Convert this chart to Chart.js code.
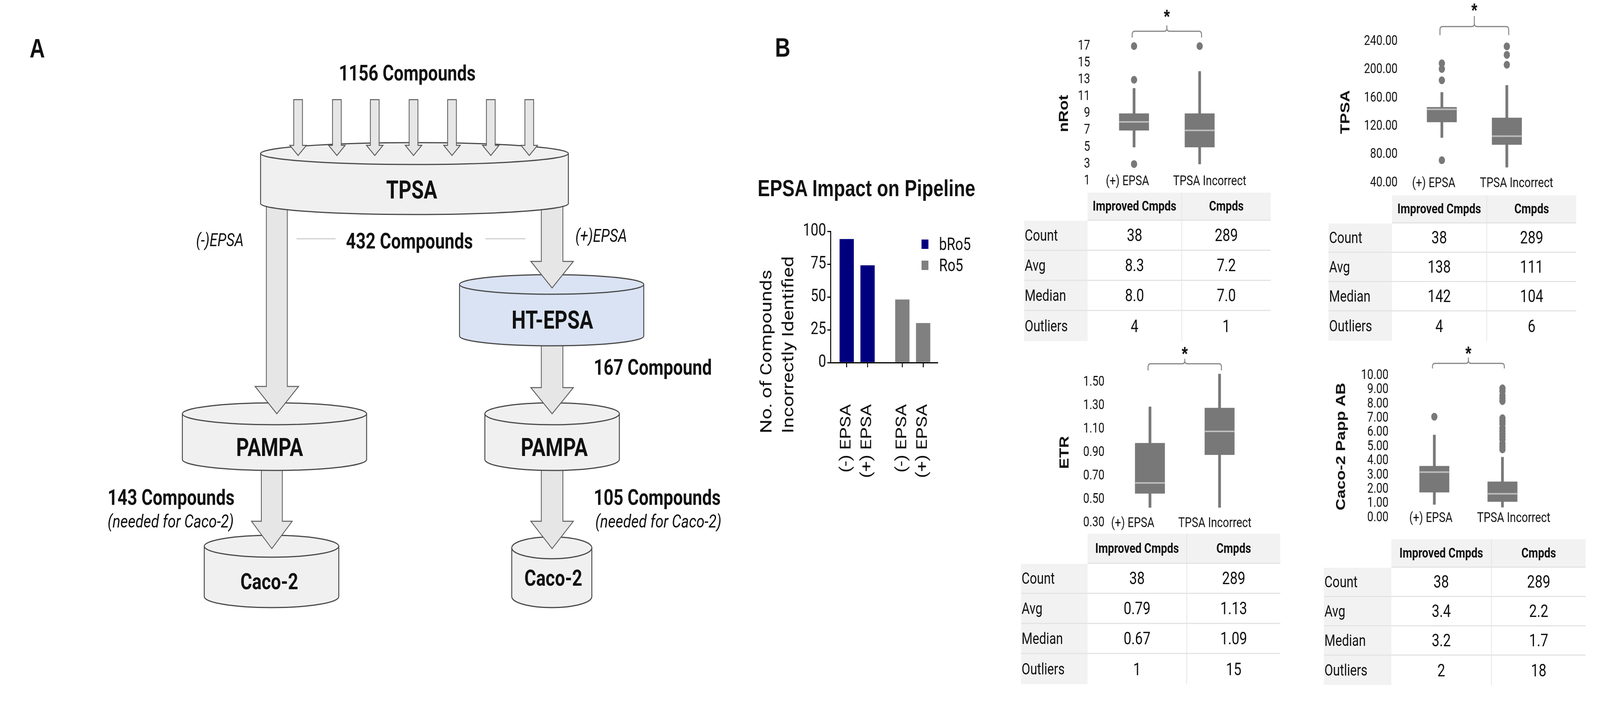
<!DOCTYPE html>
<html>
<head>
<meta charset="utf-8">
<script src="https://cdn.jsdelivr.net/npm/chart.js@4.4.1/dist/chart.umd.min.js"></script>
<style>
  html, body { margin: 0; padding: 0; background: #fff; overflow: hidden; }
  #wrap { position: relative; overflow: hidden; }
  #page { position: absolute; left: 0; top: 0; width: 5115px; height: 1835px; overflow: hidden; font-family: Roboto, sans-serif; color: #111; transform-origin: 0 0; }
  .abs { position: absolute; }
  canvas.abs { z-index: 2; }
  .c { position: absolute; transform: translate(-50%, -50%); white-space: nowrap; }
  .panel { font: bold 68px "Liberation Sans", Arial, sans-serif; color: #111; }
  .tbl { position: absolute; z-index: 1; display: grid; font: 44px Roboto, sans-serif; color: #111; }
  .tbl div { display: flex; align-items: center; justify-content: center; box-sizing: border-box; }
  .tbl .hd { background: #f2f2f2; font-weight: bold; font-size: 35px; border-bottom: 3px solid #e4e4e4; }
  .tbl .lab { background: #f2f2f2; justify-content: flex-start; padding-left: 2px; font-size: 40px; }
  .tbl .sep { border-bottom: 3px solid #e4e4e4; }
  .tbl .div2 { border-left: 2px solid #e2e2e2; }
  .leg { position: absolute; display: flex; align-items: center; font: 44px Roboto, sans-serif; color: #111; }
  .leg span.sw { display: inline-block; width: 22px; height: 24px; margin-right: 34px; }
</style>
</head>
<body>
<div id="wrap">
<div id="page">
  <svg id="flow" class="abs" style="left:0;top:0" width="2400" height="1835"></svg>
  <div class="c panel" style="left:119px;top:123px">A</div>
  <div class="c panel" style="left:2502px;top:121px">B</div>

  <div class="c" style="left:2770px;top:482px;font:bold 59px 'Liberation Sans',Arial,sans-serif">EPSA Impact on Pipeline</div>
  <div class="abs" style="left:2234px;top:789px;width:500px;height:140px;transform:rotate(-90deg);font:50px Roboto,sans-serif;line-height:70px;text-align:left;color:#111">No. of Compounds<br>Incorrectly Identified</div>
  <canvas id="pipeline" class="abs" style="left:2380px;top:540px" width="760" height="690"></canvas>
  <div id="legend"></div>

  <canvas id="nrot" class="abs"></canvas>
  <canvas id="tpsa" class="abs"></canvas>
  <canvas id="etr" class="abs"></canvas>
  <canvas id="caco" class="abs"></canvas>
</div>
</div>

<script>
// ---- panel B bar chart data
const pipelineLabels = ['(-) EPSA', '(+) EPSA', '(-) EPSA', '(+) EPSA'];
const bRo5Counts = [94, 74];
const ro5Counts = [48, 30];
const pipelineTicks = [0, 25, 50, 75, 100];

// ---- box plots: [whisker low, Q1, median, Q3, whisker high]
const groups = ['(+) EPSA', 'TPSA Incorrect'];
const nRotEpsa = [5, 7, 8, 9, 12];
const nRotIncorrect = [3, 5, 7, 9, 14];
const nRotEpsaOut = [17, 13, 3];
const nRotIncorrectOut = [17];
const nRotTicks = [1, 3, 5, 7, 9, 11, 13, 15, 17];

const tpsaEpsa = [104, 126, 144, 147, 168];
const tpsaIncorrect = [62, 94, 106, 132, 178];
const tpsaEpsaOut = [72, 185, 201, 209];
const tpsaIncorrectOut = [207, 221, 233];
const tpsaTicks = [40, 80, 120, 160, 200, 240];

const etrEpsa = [0.43, 0.55, 0.64, 0.98, 1.29];
const etrIncorrect = [0.43, 0.88, 1.08, 1.28, 1.57];
const etrEpsaOut = [];
const etrIncorrectOut = [];
const etrTicks = [0.3, 0.5, 0.7, 0.9, 1.1, 1.3, 1.5];

const cacoEpsa = [0.93, 1.79, 3.21, 3.63, 5.82];
const cacoIncorrect = [0.74, 1.13, 1.68, 2.53, 4.26];
const cacoEpsaOut = [7.1];
const cacoIncorrectOut = [9.1, 8.9, 8.6, 8.4, 8.2, 7.0, 6.8, 6.6, 6.3, 6.1, 5.9, 5.7, 5.5, 5.2, 5.0, 4.8];
const cacoTicks = [0, 1, 2, 3, 4, 5, 6, 7, 8, 9, 10];

// ---- summary tables
const statRows = ['Count', 'Avg', 'Median', 'Outliers'];
const nRotImproved = ['38', '8.3', '8.0', '4'];
const nRotCmpds = ['289', '7.2', '7.0', '1'];
const tpsaImproved = ['38', '138', '142', '4'];
const tpsaCmpds = ['289', '111', '104', '6'];
const etrImproved = ['38', '0.79', '0.67', '1'];
const etrCmpds = ['289', '1.13', '1.09', '15'];
const cacoImproved = ['38', '3.4', '3.2', '2'];
const cacoCmpds = ['289', '2.2', '1.7', '18'];

// layout is in 5115x1835 units; the viewport can be narrower, so stretch it to fill
const sx = window.innerWidth / 5115, sy = window.innerHeight / 1835;
const wrap = document.getElementById('wrap');
wrap.style.width = window.innerWidth + 'px';
wrap.style.height = window.innerHeight + 'px';
document.getElementById('page').style.transform = `scale(${sx}, ${sy})`;

Chart.defaults.font.family = 'Roboto, sans-serif';
Chart.defaults.color = '#111';
Chart.defaults.animation = false;

// ---------------- panel A: flow schematic (svg)
const parts = [];
const EDGE = '#4a4a4a';
function cyl(x1, x2, yTop, yBot, ry, fill) {
  const cx = (x1 + x2) / 2, rx = (x2 - x1) / 2;
  parts.push(`<path d="M${x1},${yTop} L${x1},${yBot} A${rx},${ry} 0 0 0 ${x2},${yBot} L${x2},${yTop} Z" fill="${fill}" stroke="${EDGE}" stroke-width="3"/>`);
  parts.push(`<ellipse cx="${cx}" cy="${yTop}" rx="${rx}" ry="${ry}" fill="${fill}" stroke="${EDGE}" stroke-width="3"/>`);
}
function arrow(cx, y1, yHead, yTip, sw, hw) {
  const s = sw / 2, h = hw / 2;
  parts.push(`<path d="M${cx - s},${y1} L${cx + s},${y1} L${cx + s},${yHead} L${cx + h},${yHead} L${cx},${yTip} L${cx - h},${yHead} L${cx - s},${yHead} Z" fill="#e6e6e6" stroke="#5a5a5a" stroke-width="2.5"/>`);
}
function txt(x, y, s, size, style, anchor) {
  const w = style === 'italic' ? 'normal' : 'bold';
  const st = style === 'italic' ? 'italic' : 'normal';
  parts.push(`<text x="${x}" y="${y}" font-family="Roboto, sans-serif" font-size="${size}" font-weight="${w}" font-style="${st}" fill="#111" text-anchor="${anchor || 'middle'}" dominant-baseline="central">${s}</text>`);
}

cyl(653, 1083, 1398, 1527, 28, '#f0f0f0');
cyl(1636, 1892, 1402, 1527, 28, '#f0f0f0');
arrow(869, 1190, 1334, 1404, 67, 130);
arrow(1765, 1190, 1334, 1404, 69, 136);
cyl(583, 1172, 1059, 1176, 28, '#f0f0f0');
cyl(1550, 1980, 1059, 1176, 28, '#f0f0f0');
arrow(1765, 860, 992, 1059, 69, 136);
cyl(1469, 2058, 728, 860, 25, '#dae3f3');
arrow(885, 520, 989, 1059, 67, 139);
arrow(1765, 520, 669, 737, 69, 136);
cyl(833, 1817, 393, 521, 28, '#f0f0f0');
[953, 1077, 1198, 1322, 1445, 1569, 1692].forEach(x => arrow(x, 255, 372, 398, 28, 53));

parts.push('<line x1="948" y1="611" x2="1073" y2="611" stroke="#d0d0d0" stroke-width="3"/>');
parts.push('<line x1="1552" y1="611" x2="1680" y2="611" stroke="#d0d0d0" stroke-width="3"/>');

txt(1302, 187, '1156 Compounds', 55);
txt(1316, 486, 'TPSA', 64);
txt(703, 614, '(-)EPSA', 46, 'italic');
txt(1309, 617, '432 Compounds', 55);
txt(1922, 603, '(+)EPSA', 46, 'italic');
txt(1766, 819, 'HT-EPSA', 64);
txt(1898, 940, '167 Compound', 55, null, 'start');
txt(862, 1145, 'PAMPA', 64);
txt(1772, 1145, 'PAMPA', 64);
txt(344, 1273, '143 Compounds', 55, null, 'start');
txt(344, 1334, '(needed for Caco-2)', 47, 'italic', 'start');
txt(1898, 1273, '105 Compounds', 55, null, 'start');
txt(1903, 1334, '(needed for Caco-2)', 47, 'italic', 'start');
txt(861, 1489, 'Caco-2', 57);
txt(1769, 1480, 'Caco-2', 57);
document.getElementById('flow').innerHTML = parts.join('');

// ---------------- EPSA impact bar chart
const groupStride = 2.67;
const slot = (i, g) => i + g * groupStride;
const pipelinePos = [slot(0, 0), slot(1, 0), slot(0, 1), slot(1, 1)];
const pipeline = new Chart(document.getElementById('pipeline'), {
  type: 'bar',
  data: {
    datasets: [
      { label: 'bRo5', data: bRo5Counts.map((v, i) => ({ x: slot(i, 0), y: v })), backgroundColor: '#00007f', barThickness: 45, grouped: false },
      { label: 'Ro5', data: ro5Counts.map((v, i) => ({ x: slot(i, 1), y: v })), backgroundColor: '#808080', barThickness: 45, grouped: false }
    ]
  },
  options: {
    responsive: false,
    layout: { padding: { top: 52, right: 143, left: 0, bottom: 0 } },
    plugins: { legend: { display: false }, tooltip: { enabled: false } },
    scales: {
      x: {
        type: 'linear', min: -0.78, max: 4.36, offset: false,
        afterBuildTicks: s => { s.ticks = pipelinePos.map(v => ({ value: v })); },
        ticks: { callback: (v, i) => pipelineLabels[i], autoSkip: false, maxRotation: 90, minRotation: 90, font: { size: 48 }, color: '#111', padding: 94 },
        grid: { drawOnChartArea: false, offset: false, tickLength: 12, color: '#000', lineWidth: 3 },
        border: { color: '#000', width: 3 },
        afterFit: s => { s.height = 302; }
      },
      y: {
        min: 0, max: 100,
        afterBuildTicks: s => { s.ticks = pipelineTicks.map(v => ({ value: v })); },
        ticks: { font: { size: 44 }, color: '#111', padding: 4, autoSkip: false },
        grid: { drawOnChartArea: false, tickLength: 10, color: '#000', lineWidth: 3 },
        border: { color: '#000', width: 3 },
        afterFit: s => { s.width = 275; }
      }
    }
  }
});
document.getElementById('legend').innerHTML = pipeline.data.datasets.map((d, i) =>
  `<div class="leg" style="left:2946px;top:${600 + i * 54}px;height:50px"><span class="sw" style="background:${d.backgroundColor}"></span>${d.label}</div>`
).join('');

// ---------------- box plots
const BOX = '#787878';
// significance bracket, star and the group names (drawn here so they may sit level with the lowest tick)
const bracketPlugin = {
  id: 'bracket',
  afterDraw(chart, args, o) {
    const { ctx, chartArea, scales: { x } } = chart;
    const x1 = x.getPixelForValue(0) - 6, x2 = x.getPixelForValue(1) + 6, cx = (x1 + x2) / 2;
    const t = o.top, h = o.h - t, leg = o.leg - t, tip = o.tip - t, star = o.star - t, r = 8;
    ctx.save();
    ctx.strokeStyle = '#858585';
    ctx.lineWidth = 3;
    ctx.beginPath();
    ctx.moveTo(x1, leg); ctx.lineTo(x1, h + r); ctx.quadraticCurveTo(x1, h, x1 + r, h);
    ctx.lineTo(cx - r, h); ctx.quadraticCurveTo(cx, h, cx, h - r); ctx.lineTo(cx, tip);
    ctx.moveTo(x2, leg); ctx.lineTo(x2, h + r); ctx.quadraticCurveTo(x2, h, x2 - r, h);
    ctx.lineTo(cx + r, h); ctx.quadraticCurveTo(cx, h, cx, h - r);
    ctx.stroke();
    ctx.fillStyle = '#111';
    ctx.textAlign = 'center';
    ctx.textBaseline = 'middle';
    ctx.font = 'bold 50px "Liberation Sans", Arial, sans-serif';
    ctx.fillText('*', cx, star + 8);
    ctx.font = '35px Roboto, sans-serif';
    chart.data.labels.forEach((l, i) => ctx.fillText(l, x.getPixelForValue(i) + o.dx[i], chartArea.bottom + 2));
    ctx.restore();
  }
};

function boxPlot(id, g) {
  const el = document.getElementById(id);
  el.width = g.width; el.height = g.height;
  el.style.left = g.left + 'px'; el.style.top = g.top + 'px';
  const pts = (vals, k) => vals.map(v => ({ x: groups[k], y: v }));
  new Chart(el, {
    type: 'bar',
    data: {
      labels: groups,
      datasets: [
        { type: 'line', data: [g.epsa[2], g.incorrect[2]], showLine: false, pointStyle: 'line', pointRadius: 47, pointBorderColor: '#bdbdbd', pointBorderWidth: 4, order: 0, clip: false },
        { type: 'line', data: pts(g.epsaOut, 0).concat(pts(g.incorrectOut, 1)), showLine: false, pointRadius: 10, pointBackgroundColor: BOX, pointBorderColor: BOX, pointBorderWidth: 0, order: 1, clip: false },
        { data: [[g.epsa[1], g.epsa[3]], [g.incorrect[1], g.incorrect[3]]], backgroundColor: BOX, barThickness: 95, grouped: false, order: 2, clip: false },
        { data: [[g.epsa[0], g.epsa[4]], [g.incorrect[0], g.incorrect[4]]], backgroundColor: BOX, barThickness: 8, grouped: false, order: 3, clip: false }
      ]
    },
    plugins: [bracketPlugin],
    options: {
      responsive: false,
      layout: { padding: { top: g.areaTop - g.top, right: g.left + g.width - g.areaRight, left: 0, bottom: 0 } },
      plugins: { legend: { display: false }, tooltip: { enabled: false }, bracket: Object.assign({ top: g.top, dx: g.dx }, g.bracket) },
      scales: {
        x: {
          grid: { display: false, drawTicks: false }, border: { display: false },
          ticks: { display: false },
          afterFit: s => { s.height = g.top + g.height - g.areaBottom; }
        },
        y: {
          min: g.ticks[0], max: g.ticks[g.ticks.length - 1],
          afterBuildTicks: s => { s.ticks = g.ticks.map(v => ({ value: v })); },
          ticks: { callback: v => v.toFixed(g.digits), padding: g.areaLeft - g.tickRight, font: { size: 35 }, color: '#111', autoSkip: false },
          grid: { display: false, drawTicks: false }, border: { display: false },
          title: { display: true, text: g.title, padding: 0, color: '#111', font: { family: '"Liberation Sans", Arial, sans-serif', weight: 'bold', size: 42 } },
          afterFit: s => { s.width = g.areaLeft - g.left; }
        }
      }
    }
  });
}

boxPlot('nrot', { left: 3377, top: 0, width: 614, height: 530, areaLeft: 3520.5, areaRight: 3970.5, areaTop: 118, areaBottom: 463, tickRight: 3485,
  ticks: nRotTicks, digits: 0, title: 'nRot', epsa: nRotEpsa, incorrect: nRotIncorrect, epsaOut: nRotEpsaOut, incorrectOut: nRotIncorrectOut,
  bracket: { h: 80, leg: 96, tip: 65, star: 38 }, dx: [-21, 32] });
boxPlot('tpsa', { left: 4277, top: 0, width: 695, height: 530, areaLeft: 4505.5, areaRight: 4951.5, areaTop: 106, areaBottom: 468, tickRight: 4468,
  ticks: tpsaTicks, digits: 2, title: 'TPSA', epsa: tpsaEpsa, incorrect: tpsaIncorrect, epsaOut: tpsaEpsaOut, incorrectOut: tpsaIncorrectOut,
  bracket: { h: 68, leg: 90, tip: 41, star: 22 }, dx: [-26, 31] });
boxPlot('etr', { left: 3379, top: 880, width: 682, height: 520, areaLeft: 3565, areaRight: 4041, areaTop: 978, areaBottom: 1338, tickRight: 3531,
  ticks: etrTicks, digits: 2, title: 'ETR', epsa: etrEpsa, incorrect: etrIncorrect, epsaOut: etrEpsaOut, incorrectOut: etrIncorrectOut,
  bracket: { h: 931, leg: 948, tip: 918, star: 901 }, dx: [-55, -15] });
boxPlot('caco', { left: 4263, top: 880, width: 700, height: 510, areaLeft: 4476.5, areaRight: 4942.5, areaTop: 961, areaBottom: 1325, tickRight: 4439,
  ticks: cacoTicks, digits: 2, title: 'Caco-2 Papp AB', epsa: cacoEpsa, incorrect: cacoIncorrect, epsaOut: cacoEpsaOut, incorrectOut: cacoIncorrectOut,
  bracket: { h: 930, leg: 943, tip: 915, star: 900 }, dx: [-11, 36] });

// ---------------- stat tables
function statTable(g, improved, cmpds) {
  const t = document.createElement('div');
  t.className = 'tbl';
  t.style.left = g.left + 'px';
  t.style.top = g.top + 'px';
  t.style.gridTemplateColumns = g.cols.map(c => c + 'px').join(' ');
  t.style.gridTemplateRows = `${g.head}px repeat(${statRows.length}, ${g.row}px)`;
  let html = '<div></div><div class="hd">Improved Cmpds</div><div class="hd div2">Cmpds</div>';
  statRows.forEach((r, i) => {
    const sep = i < statRows.length - 1 ? ' sep' : '';
    html += `<div class="lab${sep}">${r}</div><div class="val${sep}">${improved[i]}</div><div class="val div2${sep}">${cmpds[i]}</div>`;
  });
  t.innerHTML = html;
  document.getElementById('page').appendChild(t);
}
statTable({ left: 3274, top: 493, cols: [203, 300, 285], head: 72, row: 77 }, nRotImproved, nRotCmpds);
statTable({ left: 4247, top: 500, cols: [203, 302, 287], head: 72, row: 75 }, tpsaImproved, tpsaCmpds);
statTable({ left: 3264, top: 1366, cols: [213, 316, 300], head: 77, row: 77 }, etrImproved, etrCmpds);
statTable({ left: 4232, top: 1380, cols: [216, 319, 302], head: 73, row: 75 }, cacoImproved, cacoCmpds);
</script>
</body>
</html>
